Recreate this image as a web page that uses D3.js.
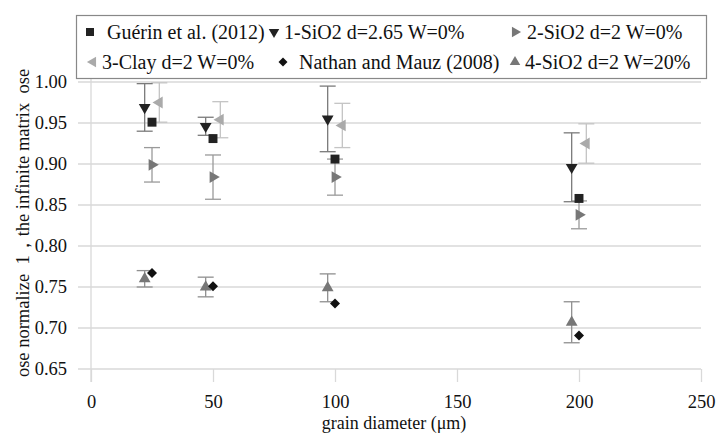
<!DOCTYPE html>
<html><head><meta charset="utf-8">
<script src="https://cdn.jsdelivr.net/npm/d3@7"></script>
<style>body{margin:0;background:#fff}svg{display:block}</style>
</head><body><svg id="c" width="719" height="434"></svg>
<script>
// ---- data ----
const xTicks = [0, 50, 100, 150, 200, 250];
const yTicks = [0.65, 0.70, 0.75, 0.80, 0.85, 0.90, 0.95, 1.00];
const seriesNames = ["Guérin et al. (2012)", "1-SiO2 d=2.65 W=0%", "2-SiO2 d=2 W=0%", "3-Clay d=2 W=0%", "Nathan and Mauz (2008)", "4-SiO2 d=2 W=20%"];
const guerinX = [25, 50, 100, 200];
const guerinY = [0.951, 0.931, 0.906, 0.858];
const sio1X = [22, 47, 97, 197];
const sio1Y = [0.969, 0.946, 0.955, 0.896];
const sio1Err = [0.029, 0.011, 0.040, 0.042];
const sio2X = [25, 50, 100, 200];
const sio2Y = [0.899, 0.884, 0.884, 0.838];
const sio2Err = [0.021, 0.027, 0.022, 0.017];
const clayX = [28, 53, 103, 203];
const clayY = [0.975, 0.954, 0.947, 0.925];
const clayErr = [0.024, 0.022, 0.027, 0.024];
const nathanX = [25, 50, 100, 200];
const nathanY = [0.767, 0.751, 0.730, 0.691];
const sio4X = [22, 47, 97, 197];
const sio4Y = [0.760, 0.750, 0.749, 0.707];
const sio4Err = [0.010, 0.012, 0.017, 0.025];

const FONT = "Liberation Serif";
const svg = d3.select("#c").style("font-family", FONT);
const x = d3.scaleLinear([0, 250], [91, 701]);
const y = d3.scaleLinear([0.65, 1.00], [369, 82]);
const gridC = "#d9d9d9";

// gridlines
svg.append("g").selectAll("line").data(yTicks).join("line")
  .attr("x1", 78).attr("x2", x(250)).attr("y1", d => y(d)).attr("y2", d => y(d))
  .attr("stroke", gridC).attr("stroke-width", 1.3);
// y axis line
svg.append("line").attr("x1", x(0)).attr("x2", x(0)).attr("y1", y(1.0) - 4).attr("y2", y(0.65) + 13)
  .attr("stroke", gridC).attr("stroke-width", 1.3);

// x axis
const gx = svg.append("g").attr("transform", `translate(0,${y(0.65)})`)
  .call(d3.axisBottom(x).tickValues(xTicks).tickSize(13).tickPadding(13).tickFormat(d3.format("d")));
gx.attr("font-family", null).attr("font-size", null);
gx.select(".domain").remove();
gx.selectAll(".tick line").attr("stroke", gridC).attr("stroke-width", 1.3);
gx.selectAll("text").style("font-family", FONT).style("font-size", "18.5px").attr("fill", "#111");

// y axis labels
const gy = svg.append("g").attr("transform", `translate(${x(0)},0)`)
  .call(d3.axisLeft(y).tickValues(yTicks).tickSize(0).tickPadding(24).tickFormat(d3.format(".2f")));
gy.attr("font-family", null).attr("font-size", null);
gy.select(".domain").remove();
gy.selectAll("text").style("font-family", FONT).style("font-size", "18.5px").attr("fill", "#111");

// axis titles
svg.append("text").attr("x", 394).attr("y", 429).attr("text-anchor", "middle")
  .style("font-family", FONT).style("font-size", "18px").attr("fill", "#111").text("grain diameter (μm)");
svg.append("text").attr("transform", "translate(29,223) rotate(-90)").attr("text-anchor", "middle")
  .style("font-family", FONT).style("font-size", "18.5px").attr("fill", "#111").style("white-space", "pre")
  .text("ose normalize  1，the infinite matrix  ose");

// error bars
function errBars(xs, ys, es, color) {
  const g = svg.append("g").attr("stroke", color).attr("stroke-width", 1.3);
  xs.forEach((xv, i) => {
    const cx = x(xv), t = y(ys[i] + es[i]), b = y(ys[i] - es[i]);
    g.append("line").attr("x1", cx).attr("x2", cx).attr("y1", t).attr("y2", b);
    g.append("line").attr("x1", cx - 8).attr("x2", cx + 8).attr("y1", t).attr("y2", t);
    g.append("line").attr("x1", cx - 8).attr("x2", cx + 8).attr("y1", b).attr("y2", b);
  });
}
errBars(sio2X, sio2Y, sio2Err, "#9a9a9a");
errBars(clayX, clayY, clayErr, "#c4c4c4");
errBars(sio1X, sio1Y, sio1Err, "#7a7a7a");
errBars(sio4X, sio4Y, sio4Err, "#8f8f8f");

// marker specs
const specs = [
  {type: d3.symbolSquare, size: 80, rot: 0, color: "#222"},
  {type: d3.symbolTriangle, size: 60, rot: 180, color: "#222"},
  {type: d3.symbolTriangle, size: 60, rot: 90, color: "#777"},
  {type: d3.symbolTriangle, size: 60, rot: -90, color: "#aaa"},
  {type: d3.symbolSquare, size: 50, rot: 45, color: "#111"},
  {type: d3.symbolTriangle, size: 60, rot: 0, color: "#777"}
];
function points(xs, ys, s) {
  svg.append("g").selectAll("path").data(xs).join("path")
    .attr("d", d3.symbol(s.type, s.size))
    .attr("transform", (d, i) => `translate(${x(d)},${y(ys[i])}) rotate(${s.rot})`)
    .attr("fill", s.color);
}
points(sio2X, sio2Y, specs[2]);
points(clayX, clayY, specs[3]);
points(sio1X, sio1Y, specs[1]);
points(guerinX, guerinY, specs[0]);
points(sio4X, sio4Y, specs[5]);
points(nathanX, nathanY, specs[4]);

// legend
const lg = svg.append("g");
lg.append("rect").attr("x", 76.5).attr("y", 15.5).attr("width", 630).attr("height", 63)
  .attr("fill", "#fff").attr("stroke", "#888").attr("stroke-width", 1.2);
// [marker x, text x, marker y]
const legPos = [[90, 107, 32], [274, 284, 32], [515, 527, 32], [93, 102, 62], [283, 299, 62], [515, 525, 62]];
seriesNames.forEach((n, i) => {
  const [mx, tx, ly] = legPos[i];
  const s = specs[i];
  lg.append("path").attr("d", d3.symbol(s.type, s.size * 0.8))
    .attr("transform", `translate(${mx},${ly}) rotate(${s.rot})`).attr("fill", s.color);
  lg.append("text").attr("x", tx).attr("y", ly + 7).style("font-family", FONT)
    .style("font-size", "20px").attr("fill", "#111").text(n);
});
</script></body></html>
